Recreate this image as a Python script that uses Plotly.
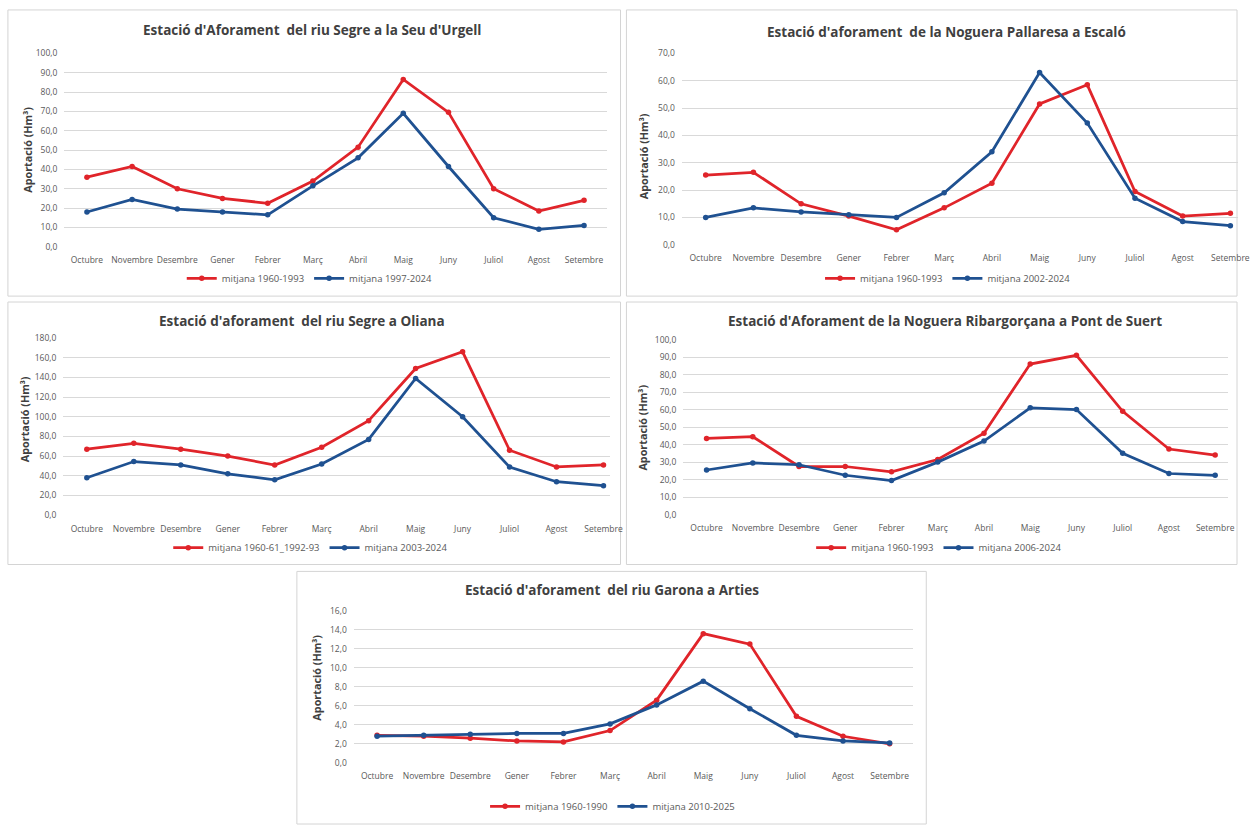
import plotly.graph_objects as go

W, H = 1252, 830

months = ["Octubre", "Novembre", "Desembre", "Gener", "Febrer", "Març",
          "Abril", "Maig", "Juny", "Juliol", "Agost", "Setembre"]

# Panel 1: Segre a la Seu d'Urgell
seu_title = "Estació d'Aforament  del riu Segre a la Seu d'Urgell"
seu_old_name = "mitjana 1960-1993"
seu_new_name = "mitjana 1997-2024"
seu_old = [36.0, 41.5, 30.0, 25.0, 22.5, 34.0, 51.5, 86.5, 69.5, 30.0, 18.5, 24.0]
seu_new = [18.0, 24.5, 19.5, 18.0, 16.5, 31.5, 46.0, 69.0, 41.5, 15.0, 9.0, 11.0]

# Panel 2: Noguera Pallaresa a Escaló
esc_title = "Estació d'aforament  de la Noguera Pallaresa a Escaló"
esc_old_name = "mitjana 1960-1993"
esc_new_name = "mitjana 2002-2024"
esc_old = [25.5, 26.5, 15.0, 10.5, 5.5, 13.5, 22.5, 51.5, 58.5, 19.5, 10.5, 11.5]
esc_new = [10.0, 13.5, 12.0, 11.0, 10.0, 19.0, 34.0, 63.0, 44.5, 17.0, 8.5, 7.0]

# Panel 3: Segre a Oliana
oli_title = "Estació d'aforament  del riu Segre a Oliana"
oli_old_name = "mitjana 1960-61_1992-93"
oli_new_name = "mitjana 2003-2024"
oli_old = [67.0, 73.0, 67.0, 60.0, 51.0, 69.0, 96.0, 149.0, 166.0, 66.0, 49.0, 51.0]
oli_new = [38.0, 54.5, 51.0, 42.0, 36.0, 52.0, 77.0, 139.0, 100.0, 49.0, 34.0, 30.0]

# Panel 4: Noguera Ribargorçana a Pont de Suert
pon_title = "Estació d'Aforament de la Noguera Ribargorçana a Pont de Suert"
pon_old_name = "mitjana 1960-1993"
pon_new_name = "mitjana 2006-2024"
pon_old = [43.5, 44.5, 27.5, 27.5, 24.5, 31.5, 46.5, 86.0, 91.0, 59.0, 37.5, 34.0]
pon_new = [25.5, 29.5, 28.5, 22.5, 19.5, 30.0, 42.0, 61.0, 60.0, 35.0, 23.5, 22.5]

# Panel 5: Garona a Arties
art_title = "Estació d'aforament  del riu Garona a Arties"
art_old_name = "mitjana 1960-1990"
art_new_name = "mitjana 2010-2025"
art_old = [2.9, 2.8, 2.6, 2.3, 2.2, 3.4, 6.6, 13.6, 12.5, 4.9, 2.8, 2.0]
art_new = [2.8, 2.9, 3.0, 3.1, 3.1, 4.1, 6.1, 8.6, 5.7, 2.9, 2.3, 2.1]

y_title = "Aportació (Hm³)"

RED = "#E0242A"
BLUE = "#1F5191"
GRID = "#D9D9D9"
TXT = "#595959"
FONT = "Open Sans"


def px(x):
    return x / W


def py(y):
    return 1 - y / H


# layout geometry per panel (pixels)
panels = [
    dict(title=seu_title, old=seu_old, new=seu_new, on=seu_old_name, nn=seu_new_name,
         xd=(65, 613), xr=(-0.5, 11.5), yd=(48, 244), ymax=100, dt=10,
         tx=315, ty=24, lx=313, ly=276, ax=27, ay=146,
         box=(8, 4, 627, 294)),
    dict(title=esc_title, old=esc_old, new=esc_new, on=esc_old_name, nn=esc_new_name,
         xd=(689, 1251), xr=(-0.5, 11.16), yd=(48, 242), ymax=70, dt=10,
         tx=956, ty=26, lx=958, ly=276, ax=651, ay=152,
         box=(633, 4, 1250, 294)),
    dict(title=oli_title, old=oli_old, new=oli_new, on=oli_old_name, nn=oli_new_name,
         xd=(64, 616), xr=(-0.5, 11.13), yd=(336.5, 516), ymax=180, dt=20,
         tx=305, ty=319, lx=314, ly=549, ax=25, ay=419,
         box=(8, 300, 627, 566)),
    dict(title=pon_title, old=pon_old, new=pon_new, on=pon_old_name, nn=pon_new_name,
         xd=(690.6, 1241), xr=(-0.5, 11.28), yd=(338, 515.5), ymax=100, dt=10,
         tx=955, ty=319, lx=949, ly=549, ax=649, ay=427,
         box=(633, 300, 1250, 566)),
    dict(title=art_title, old=art_old, new=art_new, on=art_old_name, nn=art_new_name,
         xd=(357.5, 922.5), xr=(-0.5, 11.5), yd=(613, 767), ymax=16, dt=2,
         tx=618, ty=592, lx=619, ly=811, ax=320, ay=681,
         box=(300, 573, 936, 829)),
]

fig = go.Figure()
annotations = []
shapes = []
layout_extra = {}

for i, p in enumerate(panels, start=1):
    xa = "x" if i == 1 else f"x{i}"
    ya = "y" if i == 1 else f"y{i}"
    lg = "legend" if i == 1 else f"legend{i}"
    for name, vals, col in ((p["on"], p["old"], RED), (p["nn"], p["new"], BLUE)):
        fig.add_trace(go.Scatter(
            x=months, y=vals, name=name, mode="lines+markers",
            line=dict(color=col, width=2.75),
            marker=dict(color=col, size=5.5),
            xaxis=xa, yaxis=ya, legend=lg, showlegend=True,
        ))
    xkey = "xaxis" if i == 1 else f"xaxis{i}"
    ykey = "yaxis" if i == 1 else f"yaxis{i}"
    layout_extra[xkey] = dict(
        domain=[px(p["xd"][0]), px(p["xd"][1])], range=list(p["xr"]),
        anchor=ya, type="category", showgrid=False, showline=False, zeroline=False,
        ticks="", tickfont=dict(family=FONT, size=8.5, color=TXT),
        ticklabelstandoff=7, fixedrange=True,
    )
    layout_extra[ykey] = dict(
        domain=[py(p["yd"][1]), py(p["yd"][0])], range=[0, p["ymax"]],
        anchor=xa, dtick=p["dt"], tickformat=".1f", showgrid=True,
        gridcolor=GRID, gridwidth=1, zeroline=False, showline=False, ticks="",
        tickfont=dict(family=FONT, size=8.5, color=TXT), ticklabelstandoff=6,
        fixedrange=True,
    )
    layout_extra[lg] = dict(
        x=px(p["lx"]), y=py(p["ly"]), xanchor="center", yanchor="middle",
        orientation="h", font=dict(family=FONT, size=9.5, color=TXT),
        bgcolor="rgba(0,0,0,0)", itemwidth=30, tracegroupgap=0,
    )
    annotations.append(dict(
        text=f"<b>{p['title']}</b>", x=px(p["tx"]), y=py(p["ty"]),
        xref="paper", yref="paper", showarrow=False, xanchor="center", yanchor="middle",
        font=dict(family=FONT, size=13.5, color="#404040"),
    ))
    annotations.append(dict(
        text=f"<b>{y_title}</b>", x=px(p["ax"]), y=py(p["ay"]),
        xref="paper", yref="paper", showarrow=False, textangle=-90,
        xanchor="center", yanchor="middle",
        font=dict(family=FONT, size=10.8, color="#404040"),
    ))
    x0, y0, x1, y1 = p["box"]
    shapes.append(dict(
        type="rect", xref="paper", yref="paper",
        x0=px(x0), x1=px(x1), y0=py(y1), y1=py(y0),
        line=dict(color="#D4D4D4", width=1), fillcolor="rgba(0,0,0,0)", layer="below",
    ))

fig.update_layout(
    width=W, height=H, autosize=False,
    margin=dict(l=0, r=0, t=0, b=0),
    paper_bgcolor="white", plot_bgcolor="white",
    separators=",.",
    annotations=annotations, shapes=shapes,
    font=dict(family=FONT, color=TXT),
    **layout_extra,
)

fig.write_html(
    "out.html",
    config={"displayModeBar": False},
    post_script=(
        "document.documentElement.style.overflow='hidden';"
        "document.body.style.margin='0';document.body.style.overflow='hidden';"
        "var d=document.getElementById('{plot_id}');"
        "d.style.position='fixed';d.style.left='0px';d.style.top='0px';"
    ),
)
